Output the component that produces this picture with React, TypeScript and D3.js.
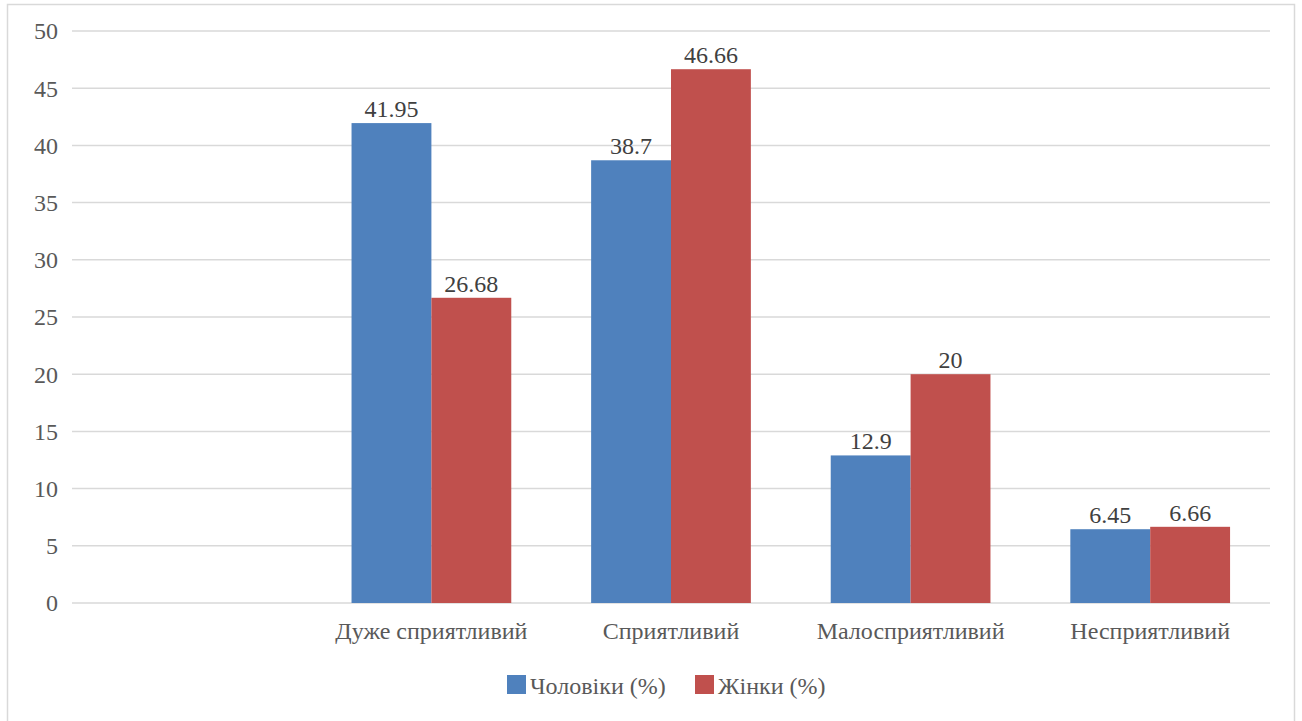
import React from 'react';
import * as d3 from 'd3';

const categories = ['', 'Дуже сприятливий', 'Сприятливий', 'Малосприятливий', 'Несприятливий'];
const seriesNames = ['Чоловіки (%)', 'Жінки (%)'];
const men = [null, 41.95, 38.7, 12.9, 6.45];
const women = [null, 26.68, 46.66, 20, 6.66];
const yTicks = [0, 5, 10, 15, 20, 25, 30, 35, 40, 45, 50];
const colors = ['#4F81BD', '#C0504D'];

const left = 72, right = 1270, top = 31, bottom = 603;
const txt = { fontFamily: 'Times New Roman', fontSize: '24px' };

const App: React.FC = () => {
  const x = d3.scaleBand().domain(categories.map((c, i) => String(i))).range([left, right]).padding(0);
  const bw = x.bandwidth();
  const xInner = d3.scaleBand().domain(['0', '1']).range([bw / 6, bw - bw / 6]).padding(0);
  const y = d3.scaleLinear().domain([0, 50]).range([bottom, top]);
  const series = [men, women];
  const legendX = [507, 695];

  return (
    <svg width={1302} height={721} style={{ position: 'fixed', left: 0, top: 0, display: 'block', ...txt }}>
      {/* chart frame */}
      <rect x={7.5} y={4.5} width={1287} height={740} fill="white" stroke="#d9d9d9" strokeWidth={1.5} />

      {/* gridlines */}
      {yTicks.map(t => (
        <line key={'g' + t} x1={left} x2={right} y1={y(t)} y2={y(t)} stroke="#d9d9d9" strokeWidth={1.5} />
      ))}

      {/* y tick labels */}
      {yTicks.map(t => (
        <text key={'t' + t} x={58} y={y(t)} dy="0.35em" textAnchor="end" fill="#595959" style={txt}>
          {t}
        </text>
      ))}

      {/* bars and value labels */}
      {series.map((vals, si) =>
        vals.map((v, i) => {
          if (v === null) return null;
          const bx = (x(String(i)) || 0) + (xInner(String(si)) || 0);
          return (
            <g key={`b${si}-${i}`}>
              <rect x={bx} y={y(v)} width={xInner.bandwidth()} height={bottom - y(v)} fill={colors[si]} />
              <text x={bx + xInner.bandwidth() / 2} y={y(v) - 6} textAnchor="middle" fill="#404040" style={txt}>
                {v}
              </text>
            </g>
          );
        })
      )}

      {/* category labels */}
      {categories.map((c, i) => (
        <text key={'c' + i} x={(x(String(i)) || 0) + bw / 2} y={639} textAnchor="middle" fill="#595959" style={txt}>
          {c}
        </text>
      ))}

      {/* legend */}
      {seriesNames.map((s, i) => (
        <g key={'l' + i} transform={`translate(${legendX[i]},675)`}>
          <rect width={19} height={19} fill={colors[i]} />
          <text x={23} y={19} fill="#595959" style={txt}>{s}</text>
        </g>
      ))}
    </svg>
  );
};

export default App;
